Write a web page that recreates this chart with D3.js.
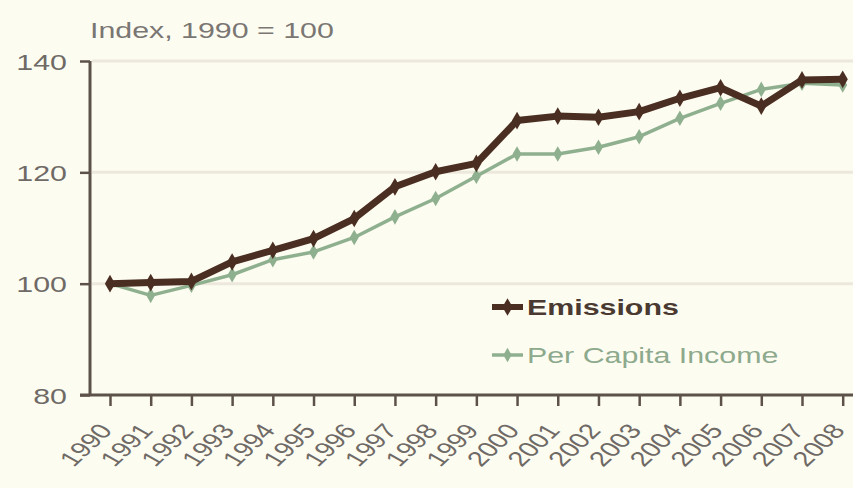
<!DOCTYPE html>
<html>
<head>
<meta charset="utf-8">
<script src="https://cdn.jsdelivr.net/npm/d3@7"></script>
<style>
  html, body { margin: 0; padding: 0; background: #fdfcf1; }
  svg { display: block; }
  text { font-family: "Liberation Sans", Arial, sans-serif; }
</style>
</head>
<body>
<svg id="chart" width="853" height="488"></svg>
<script>
// Index values, 1990 = 100
const years = [1990, 1991, 1992, 1993, 1994, 1995, 1996, 1997, 1998, 1999,
               2000, 2001, 2002, 2003, 2004, 2005, 2006, 2007, 2008];
const emissions = [100, 100.2, 100.4, 103.9, 106.0, 108.1, 111.7, 117.4, 120.1, 121.6,
                   129.3, 130.1, 129.9, 130.9, 133.3, 135.2, 131.9, 136.6, 136.7];
const income = [100, 97.9, 99.7, 101.6, 104.3, 105.7, 108.3, 112.0, 115.3, 119.3,
                123.3, 123.3, 124.5, 126.4, 129.7, 132.4, 134.9, 136.0, 135.7];
const yTicks = [80, 100, 120, 140];
const seriesNames = ["Emissions", "Per Capita Income"];

const W = 853, H = 488;
const SX = 1.38; // horizontal widening applied to all lettering
const brown = "#4b2e22", green = "#8fb08f", axisCol = "#5d5249", textCol = "#6f6a66";

const svg = d3.select("#chart");
svg.append("rect").attr("width", W).attr("height", H).attr("fill", "#fdfcf1");

const x = d3.scaleLinear().domain([1990, 2008]).range([110, 842.7]);
const y = d3.scaleLinear().domain([80, 140]).range([395, 61]);

// Horizontal grid lines
svg.append("g").selectAll("line")
  .data(yTicks.filter(d => d > 80))
  .join("line")
  .attr("x1", 92).attr("x2", W)
  .attr("y1", d => y(d)).attr("y2", d => y(d))
  .attr("stroke", "#ece8dc").attr("stroke-width", 3);

// Y axis
const yAxis = svg.append("g").attr("transform", "translate(90,0)")
  .call(d3.axisLeft(y).tickValues(yTicks).tickSize(10).tickPadding(0).tickFormat(d3.format("d")));
yAxis.select(".domain").attr("stroke", axisCol).attr("stroke-width", 3).attr("d", `M0,${y(140)}V${y(80)}`);
yAxis.selectAll(".tick line").attr("stroke", axisCol).attr("stroke-width", 2.5);
yAxis.selectAll(".tick text")
  .attr("x", null).attr("dy", null)
  .attr("transform", "translate(-23,8) scale(" + SX + ",1)")
  .attr("text-anchor", "end")
  .attr("font-size", 22).attr("fill", textCol);

// X axis
const xAxis = svg.append("g").attr("transform", `translate(0,${y(80)})`)
  .call(d3.axisBottom(x).tickValues(years).tickSize(11).tickFormat(d3.format("d")));
xAxis.select(".domain").attr("stroke", axisCol).attr("stroke-width", 3).attr("d", `M80,0H${W}`);
xAxis.selectAll(".tick line").attr("stroke", axisCol).attr("stroke-width", 2.5);
xAxis.selectAll(".tick text")
  .attr("y", null).attr("dy", null)
  .attr("transform", "translate(3,36) scale(" + SX + ",1) rotate(-52)")
  .attr("text-anchor", "end")
  .attr("font-size", 21).attr("fill", textCol);

// Unit label
svg.append("text")
  .attr("transform", "translate(90,38) scale(" + SX + ",1)")
  .attr("font-size", 22).attr("fill", "#7a7673")
  .text("Index, 1990 = 100");

const line = d3.line().x((d, i) => x(years[i])).y(d => y(d));
const diamond = d3.symbol().type(d3.symbolDiamond);

// Per capita income series
svg.append("path").datum(income)
  .attr("d", line).attr("fill", "none")
  .attr("stroke", green).attr("stroke-width", 3.5).attr("stroke-linejoin", "round");
svg.append("g").selectAll("path").data(income).join("path")
  .attr("transform", (d, i) => `translate(${x(years[i])},${y(d)})`)
  .attr("d", diamond.size(70)).attr("fill", green);

// Emissions series
svg.append("path").datum(emissions)
  .attr("d", line).attr("fill", "none")
  .attr("stroke", brown).attr("stroke-width", 7).attr("stroke-linejoin", "round");
svg.append("g").selectAll("path").data(emissions).join("path")
  .attr("transform", (d, i) => `translate(${x(years[i])},${y(d)})`)
  .attr("d", diamond.size(90)).attr("fill", brown);

// Legend
const legend = svg.append("g");
const legendRows = [
  {name: seriesNames[0], color: brown, text: "#4a3a31", w: 6, s: 90, bold: true, y: 307},
  {name: seriesNames[1], color: green, text: "#8daa8d", w: 3.5, s: 60, bold: false, y: 355}
];
legendRows.forEach(r => {
  legend.append("line").attr("x1", 492).attr("x2", 523).attr("y1", r.y).attr("y2", r.y)
    .attr("stroke", r.color).attr("stroke-width", r.w);
  legend.append("path").attr("transform", `translate(507.5,${r.y})`)
    .attr("d", diamond.size(r.s)).attr("fill", r.color);
  legend.append("text")
    .attr("transform", `translate(527,${r.y + 8}) scale(${SX},1)`)
    .attr("font-size", 22).attr("font-weight", r.bold ? "bold" : "normal")
    .attr("fill", r.text).text(r.name);
});
</script>
</body>
</html>
